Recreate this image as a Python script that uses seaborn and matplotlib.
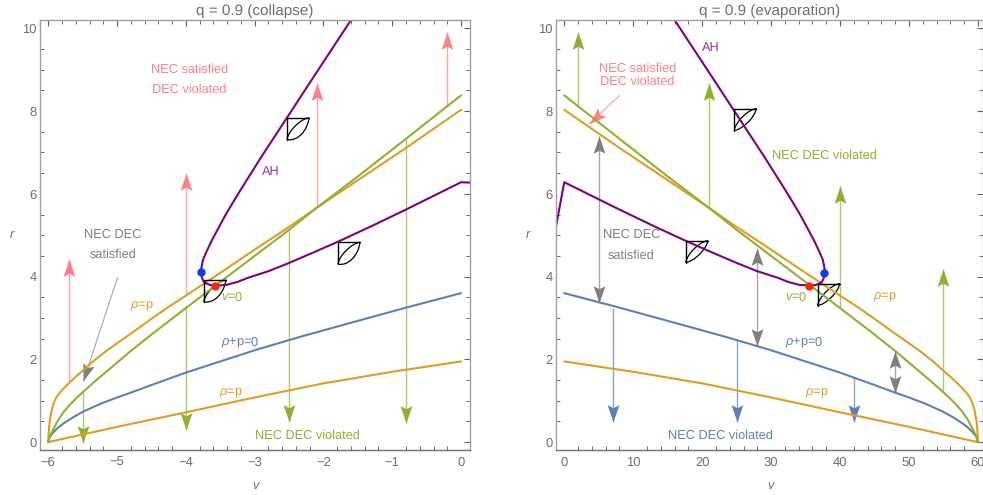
import math
import matplotlib
matplotlib.use('Agg')
import matplotlib.pyplot as plt
from matplotlib.markers import MarkerStyle
from matplotlib.patches import PathPatch
from matplotlib.path import Path
from matplotlib.ticker import MultipleLocator
from matplotlib.transforms import Affine2D
import seaborn as sns

sns.set_style('white')
plt.rcParams['font.family'] = ['Liberation Sans', 'DejaVu Sans']
plt.rcParams['mathtext.fontset'] = 'custom'
plt.rcParams['mathtext.rm'] = 'Liberation Sans'
plt.rcParams['mathtext.it'] = 'Liberation Sans:italic'
plt.rcParams['text.hinting'] = 'no_hinting'

BLUE = '#5E81B5'
ORANGE = '#E19C24'
GREEN = '#8FB131'
PURPLE = '#800080'
PINK = '#FF8088'
GRAY = '#808080'
TEXT = '#6e6e6e'

# curves, collapse panel
upper_orange_v = [-6, -5.995, -5.98, -5.95, -5.92, -5.88, -5.83, -5.77, -5.69, -5.6, -5.49, -5.35, -5.2, -5.05, -4.93, -4.75, -4.5, -4.25, -4, -3.5, -3, -2.5, -2.1, -1.5, -0.8, 0]
upper_orange_r = [0, 0.2, 0.5, 0.78, 0.95, 1.09, 1.2, 1.31, 1.44, 1.58, 1.74, 1.95, 2.15, 2.33, 2.47, 2.68, 2.98, 3.27, 3.54, 4.09, 4.65, 5.2, 5.66, 6.33, 7.11, 8.03]
green_v = [-6, -5.99, -5.96, -5.92, -5.85, -5.78, -5.7, -5.6, -5.49, -5.3, -5.1, -4.81, -4.5, -4, -3.5, -3, -2.5, -2.1, -1.5, -0.8, 0]
green_r = [0, 0.08, 0.2, 0.33, 0.55, 0.72, 0.88, 1.05, 1.22, 1.5, 1.78, 2.19, 2.6, 3.24, 3.87, 4.5, 5.13, 5.66, 6.42, 7.33, 8.38]
blue_v = [-6, -5.98, -5.92, -5.85, -5.78, -5.65, -5.49, -5.25, -5, -4.81, -4.5, -4, -3.5, -3, -2.35, -1.5, -0.8, 0]
blue_r = [0, 0.12, 0.25, 0.36, 0.45, 0.59, 0.74, 0.92, 1.08, 1.19, 1.38, 1.68, 1.95, 2.22, 2.54, 2.93, 3.25, 3.6]
lower_orange_v = [-6, -5, -4, -3, -2, -1, 0]
lower_orange_r = [0, 0.37, 0.72, 1.08, 1.42, 1.7, 1.95]
ah_v = [-1.6, -2.2, -2.53, -2.9, -3.21, -3.28, -3.42, -3.55, -3.63, -3.7, -3.75, -3.77, -3.78, -3.775, -3.76, -3.74, -3.7, -3.65, -3.57, -3.41, -3.25, -3.1, -2.8, -2.5, -2.15, -1.78, -1.3, -0.8, -0.4, 0, 0.13]
ah_r = [10.2, 8.68, 7.84, 6.9, 6.08, 5.89, 5.5, 5.1, 4.85, 4.6, 4.41, 4.25, 4.12, 4.02, 3.95, 3.88, 3.83, 3.8, 3.78, 3.8, 3.87, 3.97, 4.13, 4.33, 4.58, 4.85, 5.22, 5.62, 5.95, 6.28, 6.27]

# curves, evaporation panel
upper_orange_v2 = [60, 59.95, 59.8, 59.5, 59.2, 58.8, 58.3, 57.7, 56.9, 56, 54.9, 53.5, 52, 50.5, 49.3, 47.5, 45, 42.5, 40, 35, 30, 25, 21, 15, 8, 0]
green_v2 = [60, 59.9, 59.6, 59.2, 58.5, 57.8, 57, 56, 54.9, 53, 51, 48.1, 45, 40, 35, 30, 25, 21, 15, 8, 0]
blue_v2 = [60, 59.8, 59.2, 58.5, 57.8, 56.5, 54.9, 52.5, 50, 48.1, 45, 40, 35, 30, 23.5, 15, 8, 0]
lower_orange_v2 = [60, 50, 40, 30, 20, 10, 0]
ah_v2 = [16, 22, 25.3, 29, 32.1, 32.8, 34.2, 35.5, 36.3, 37, 37.5, 37.7, 37.8, 37.75, 37.6, 37.4, 37, 36.5, 35.7, 34.1, 32.5, 31, 28, 25, 21.5, 17.8, 13, 8, 4, 0, -1.38]
ah_r2 = [10.2, 8.68, 7.84, 6.9, 6.08, 5.89, 5.5, 5.1, 4.85, 4.6, 4.41, 4.25, 4.12, 4.02, 3.95, 3.88, 3.83, 3.8, 3.78, 3.8, 3.87, 3.97, 4.13, 4.33, 4.58, 4.85, 5.22, 5.62, 5.95, 6.28, 5.05]

# (v, start r, tip r)
pink_arrows = [(-5.7, 1.46, 4.42), (-4, 3.53, 6.5), (-2.1, 5.68, 8.68), (-0.2, 8.1, 9.9)]
green_down = [(-5.5, 1.22, -0.02), (-4, 3.24, 0.29), (-2.5, 5.13, 0.49), (-0.8, 7.33, 0.46)]
green_up = [(2, 8.12, 9.9), (21, 5.68, 8.68), (40, 3.27, 6.2), (55, 1.24, 4.18)]
blue_down = [(7, 3.25, 0.48), (25, 2.47, 0.48), (42, 1.58, 0.48)]
gray_double = [(5, 3.37, 7.39), (28, 2.32, 4.69), (48, 1.19, 2.21)]

# top left corner of the light cones
cones_left = [(-3.74, 3.92), (-2.53, 7.84), (-1.79, 4.83)]
cones_right = [(36.75, 3.83), (24.65, 8.06), (17.63, 4.87)]

HEAD = Path([(0, 0), (-1, 0.34), (-0.82, 0), (-1, -0.34), (0, 0)],
            [Path.MOVETO, Path.LINETO, Path.LINETO, Path.LINETO, Path.CLOSEPOLY])


def curve(ax, v, r, color):
    sns.lineplot(x=v, y=r, color=color, linewidth=1.5, sort=False, estimator=None, ax=ax)


def arrow(ax, x0, y0, x1, y1, color, shaft=True, lw=1.0):
    if shaft:
        ax.plot([x0, x1], [y0, y1], color=color, lw=lw, alpha=0.7, solid_capstyle='butt')
    p0, p1 = ax.transData.transform([(x0, y0), (x1, y1)])
    angle = math.degrees(math.atan2(p1[1] - p0[1], p1[0] - p0[0]))
    marker = MarkerStyle(HEAD, transform=Affine2D().rotate_deg(angle))
    ax.plot([x1], [y1], marker=marker, markersize=25, color=color, markeredgewidth=0, linestyle='none')


def cone(ax, v, r, dv, dr, outer):
    # left and top edge plus the curved lens between the far corners
    ax.plot([v + dv, v, v], [r, r, r - dr], color='black', lw=1.0)
    ctrl = [outer[0], outer[1], (0.62, -0.05), (0.05, -0.62)]
    pts = [(v + dv * a, r + dr * b) for a, b in ctrl]
    verts = [(v, r - dr), pts[0], pts[1], (v + dv, r), pts[2], pts[3], (v, r - dr)]
    codes = [Path.MOVETO] + [Path.CURVE4] * 6
    ax.add_patch(PathPatch(Path(verts, codes), fill=False, edgecolor='black', lw=0.9))


def style(ax, title, xlim, xmajor, xminor, xlabel_x):
    ax.set_xlim(*xlim)
    ax.set_ylim(-0.19, 10.2)
    ax.xaxis.set_major_locator(MultipleLocator(xmajor))
    ax.xaxis.set_minor_locator(MultipleLocator(xminor))
    ax.yaxis.set_major_locator(MultipleLocator(2))
    ax.yaxis.set_minor_locator(MultipleLocator(0.5))
    ax.tick_params(which='major', direction='in', length=4.5, width=0.8, color='#5f5f5f',
                   top=True, right=True, labelsize=9.4, labelcolor=TEXT)
    ax.tick_params(axis='y', which='major', pad=2.5)
    ax.tick_params(axis='x', which='major', pad=5)
    ax.tick_params(which='minor', direction='in', length=2.6, width=0.7, color='#6a6a6a',
                   top=True, right=True, bottom=True, left=True)
    for s in ax.spines.values():
        s.set_color('#a0a0a0')
        s.set_linewidth(1.0)
    ax.spines['bottom'].set_color('#707070')
    ax.set_title(title, color=TEXT, fontsize=11, pad=3.5)
    ax.set_xlabel('v', style='italic', color=TEXT, fontsize=9.2, va='center')
    ax.set_ylabel('r', style='italic', color=TEXT, fontsize=9.2, rotation=0, va='center', ha='center')
    ax.xaxis.set_label_coords(xlabel_x, -36 / 430)
    ax.yaxis.set_label_coords(-28 / ax.get_window_extent().width, 0.5)


fig = plt.figure(figsize=(9.83, 4.95), dpi=100)
ax1 = fig.add_axes([40 / 983, 45 / 495, 430 / 983, 430 / 495])
ax2 = fig.add_axes([556 / 983, 45 / 495, 427 / 983, 430 / 495])

style(ax1, 'q = 0.9 (collapse)', (-6.12, 0.13), 1, 0.2, 0.5)
style(ax2, 'q = 0.9 (evaporation)', (-1.2, 60.74), 10, 2, 0.503)

for v, r0, r1 in pink_arrows:
    arrow(ax1, v, r0, v, r1, PINK)
for v, r0, r1 in green_down:
    arrow(ax1, v, r0, v, r1, GREEN)
arrow(ax1, -4.99, 3.99, -5.49, 1.47, GRAY, lw=0.8)

curve(ax1, lower_orange_v, lower_orange_r, ORANGE)
curve(ax1, blue_v, blue_r, BLUE)
curve(ax1, upper_orange_v, upper_orange_r, ORANGE)
curve(ax1, green_v, green_r, GREEN)
curve(ax1, ah_v, ah_r, PURPLE)
for v, r in cones_left:
    cone(ax1, v, r, 0.32, 0.53, [(0.5, -1.1), (0.95, -0.55)])
sns.scatterplot(x=[-3.78], y=[4.12], color='#0A3CF5', s=36, linewidth=0, zorder=5, ax=ax1)
sns.scatterplot(x=[-3.57], y=[3.78], color='#F5280A', s=36, linewidth=0, zorder=5, ax=ax1)

for v, r0, r1 in green_up:
    arrow(ax2, v, r0, v, r1, GREEN)
for v, r0, r1 in blue_down:
    arrow(ax2, v, r0, v, r1, BLUE)
for v, r0, r1 in gray_double:
    arrow(ax2, v, r0, v, r1, GRAY)
    arrow(ax2, v, r1, v, r0, GRAY, shaft=False)
arrow(ax2, 8.05, 8.38, 3.6, 7.69, PINK, lw=0.9)

curve(ax2, lower_orange_v2, lower_orange_r, ORANGE)
curve(ax2, blue_v2, blue_r, BLUE)
curve(ax2, upper_orange_v2, upper_orange_r, ORANGE)
curve(ax2, green_v2, green_r, GREEN)
curve(ax2, ah_v2, ah_r2, PURPLE)
for v, r in cones_right:
    cone(ax2, v, r, 3.2, 0.53, [(0.38, -0.95), (0.95, -0.38)])
sns.scatterplot(x=[37.7], y=[4.09], color='#0A3CF5', s=36, linewidth=0, zorder=5, ax=ax2)
sns.scatterplot(x=[35.5], y=[3.78], color='#F5280A', s=36, linewidth=0, zorder=5, ax=ax2)


def label(ax, x, y, s, color):
    ax.text(x, y, s, color=color, fontsize=9.2, ha='center', va='center')


label(ax1, -3.94, 9.0, 'NEC satisfied', PINK)
label(ax1, -3.95, 8.52, 'DEC violated', PINK)
label(ax1, -2.76, 6.54, 'AH', '#993399')
label(ax1, -5.07, 5.01, 'NEC DEC', GRAY)
label(ax1, -5.06, 4.53, 'satisfied', GRAY)
label(ax1, -4.64, 3.29, r'$\rho$=p', ORANGE)
label(ax1, -3.33, 3.51, r'$v$=0', GREEN)
label(ax1, -3.21, 2.42, r'$\rho$+p=0', BLUE)
label(ax1, -3.34, 1.19, r'$\rho$=p', ORANGE)
label(ax1, -2.24, 0.15, 'NEC DEC violated', GREEN)

label(ax2, 21.3, 9.54, 'AH', '#993399')
label(ax2, 10.67, 9.03, 'NEC satisfied', PINK)
label(ax2, 10.52, 8.72, 'DEC violated', PINK)
label(ax2, 37.7, 6.92, 'NEC DEC violated', GREEN)
label(ax2, 9.8, 5.01, 'NEC DEC', GRAY)
label(ax2, 9.65, 4.5, 'satisfied', GRAY)
label(ax2, 33.7, 3.51, r'$v$=0', GREEN)
label(ax2, 46.5, 3.51, r'$\rho$=p', ORANGE)
label(ax2, 34.8, 2.42, r'$\rho$+p=0', BLUE)
label(ax2, 36.6, 1.19, r'$\rho$=p', ORANGE)
label(ax2, 22.6, 0.15, 'NEC DEC violated', BLUE)

plt.savefig('out.png', dpi=100)
